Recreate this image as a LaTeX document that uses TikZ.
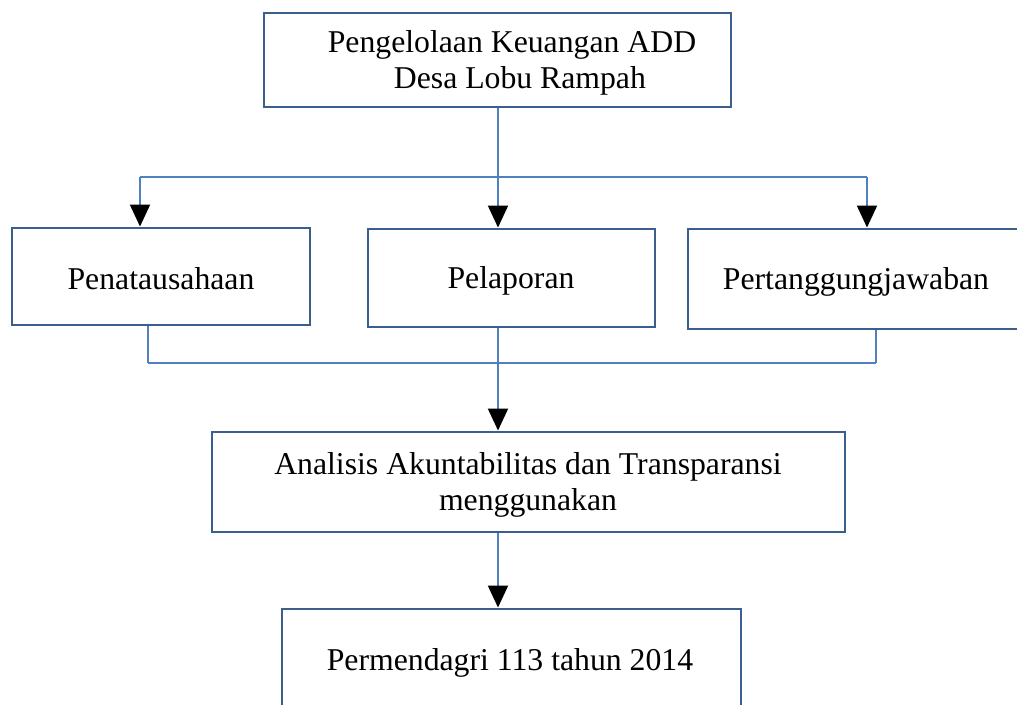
\documentclass[tikz,border=0pt]{standalone}
\usepackage{fontspec}
\setmainfont{Liberation Serif}
\usetikzlibrary{arrows.meta}
\definecolor{boxline}{HTML}{3A5F8C}
\definecolor{conn}{HTML}{4F81BD}
\begin{document}
\begin{tikzpicture}[x=0.75pt,y=-0.75pt,
  box/.style={draw=boxline,line width=2.2pt,rectangle,inner sep=0pt},
  lbl/.style={font=\fontsize{23.8}{26.5}\selectfont,align=center,inner sep=0pt},
  conline/.style={draw=conn,line width=1.5pt},
  arr/.style={conline,arrows={-{Triangle[width=15pt,length=16.5pt,color=black]}}}]
\useasboundingbox (0,0) rectangle (1017,704);
\fill[white] (0,0) rectangle (1017,704);
% boxes
\node[box,minimum width=467*0.75pt,minimum height=94*0.75pt] (top) at (497.5,60) {};
\node[box,minimum width=298*0.75pt,minimum height=97*0.75pt] (pen) at (161,276.5) {};
\node[box,minimum width=287*0.75pt,minimum height=98*0.75pt] (pel) at (511.5,278) {};
\node[box,minimum width=336*0.75pt,minimum height=100*0.75pt] (per) at (856,279) {};
\node[box,minimum width=633*0.75pt,minimum height=100*0.75pt] (ana) at (528.5,482) {};
\node[box,minimum width=459*0.75pt,minimum height=102*0.75pt] (perm) at (511.5,660) {};
% labels
\node[lbl] (ttop) at (512,63) {Pengelolaan Keuangan ADD\\\hspace*{0.5em}Desa Lobu Rampah};
\node[lbl] (tpen) at (161,279) {Penatausahaan};
\node[lbl] (tpel) at (511,281) {Pelaporan};
\node[lbl] (tper) at (856,282) {Pertanggungjawaban};
\node[lbl] (tana) at (528,485) {Analisis Akuntabilitas dan Transparansi\\menggunakan};
\node[lbl] (tperm) at (510,663) {Permendagri 113 tahun 2014};
% junctions
\coordinate (ja) at (140,177);
\coordinate (jb) at (498,177);
\coordinate (jc) at (867,177);
\coordinate (ka) at (148,363);
\coordinate (kb) at (498,363);
\coordinate (kc) at (876,363);
% upper connectors
\draw[conline] (top.south -| jb) -- (jb);
\draw[conline] (ja) -- (jc);
\draw[arr] (ja) -- (ja |- pen.north);
\draw[arr] (jb) -- (jb |- pel.north);
\draw[arr] (jc) -- (jc |- per.north);
% lower connectors
\draw[conline] (ka |- pen.south) -- (ka);
\draw[conline] (kb |- pel.south) -- (kb);
\draw[conline] (kc |- per.south) -- (kc);
\draw[conline] (ka) -- (kc);
\draw[arr] (kb) -- (kb |- ana.north);
\draw[arr] (ana.south -| kb) -- (kb |- perm.north);
\end{tikzpicture}
\end{document}
